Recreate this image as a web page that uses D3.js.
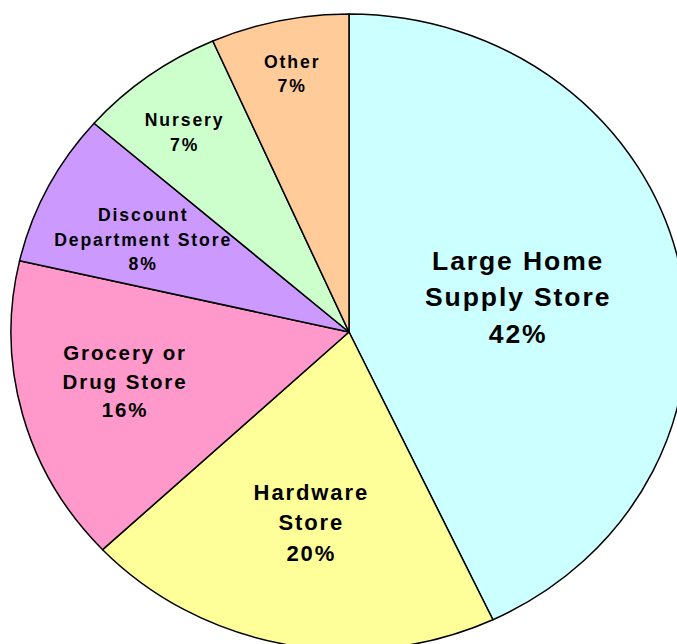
<!DOCTYPE html>
<html>
<head>
<meta charset="utf-8">
<script src="https://cdn.jsdelivr.net/npm/d3@7"></script>
<style>
  body { margin: 0; background: #fff; }
  svg text { font-family: "Liberation Sans", Arial, sans-serif; font-weight: bold; fill: #000; }
</style>
</head>
<body>
<svg id="myGraph" width="677" height="644"></svg>
<script>
// data
var categories = ["Large Home Supply Store", "Hardware Store", "Grocery or Drug Store",
                  "Discount Department Store", "Nursery", "Other"];
var shares = [43.0, 20.0, 15.6, 7.8, 7.0, 6.6];
var pctLabels = ["42%", "20%", "16%", "8%", "7%", "7%"];
// how each label is broken into lines
var labelLines = [
  ["Large Home", "Supply Store"],
  ["Hardware", "Store"],
  ["Grocery or", "Drug Store"],
  ["Discount", "Department Store"],
  ["Nursery"],
  ["Other"]
];
var colors = ["#CCFFFF", "#FFFF99", "#FF99CC", "#CC99FF", "#CCFFCC", "#FFCC99"];

// layout
var cx = 349, cy = 332;
var R = 338;          // horizontal radius
var ky = 318 / 338;   // pie is squashed a bit vertically
var labelR = [0.51, 0.61, 0.68, 0.68, 0.80, 0.83];   // label distance (fraction of R)
var nudge = [[0, 0], [0, 0], [-3, -7], [-2, 5.5], [-5, 5], [0, 0]];
var fontSize = [26.5, 22, 20.5, 17.6, 17.6, 17.6];
var ls = 1.9;         // letter spacing

var svg = d3.select("#myGraph");

var pie = d3.pie().sort(null).value(function(d){ return d; });
var arcs = pie(shares);

var arc = d3.arc().innerRadius(0).outerRadius(R);

// slices (drawn in circle space, then squashed)
svg.append("g")
   .attr("transform", "translate(" + cx + "," + cy + ") scale(1," + ky + ")")
   .selectAll("path")
   .data(arcs)
   .enter()
   .append("path")
   .attr("d", arc)
   .attr("fill", function(d, i){ return colors[i]; })
   .attr("stroke", "#000")
   .attr("stroke-width", 1.5)
   .attr("stroke-linejoin", "round")
   .attr("vector-effect", "non-scaling-stroke");

// labels
var labels = svg.append("g").attr("transform", "translate(" + cx + "," + cy + ")");

arcs.forEach(function(d, i){
  var r = R * labelR[i];
  var c = d3.arc().innerRadius(r).outerRadius(r).centroid(d);
  var x = c[0] + nudge[i][0] + ls / 2, y = c[1] * ky + nudge[i][1];
  var lines = labelLines[i].concat([pctLabels[i]]);
  var fs = fontSize[i];
  var lh = fs * 1.38;
  var t = labels.append("text")
        .attr("text-anchor", "middle")
        .attr("font-size", fs + "px")
        .attr("letter-spacing", ls + "px")
        .attr("x", x)
        .attr("y", y - (lines.length - 1) * lh / 2 + fs * 0.36);
  lines.forEach(function(s, j){
    t.append("tspan")
     .attr("x", x)
     .attr("dy", j === 0 ? 0 : lh)
     .text(s);
  });
});
</script>
</body>
</html>
